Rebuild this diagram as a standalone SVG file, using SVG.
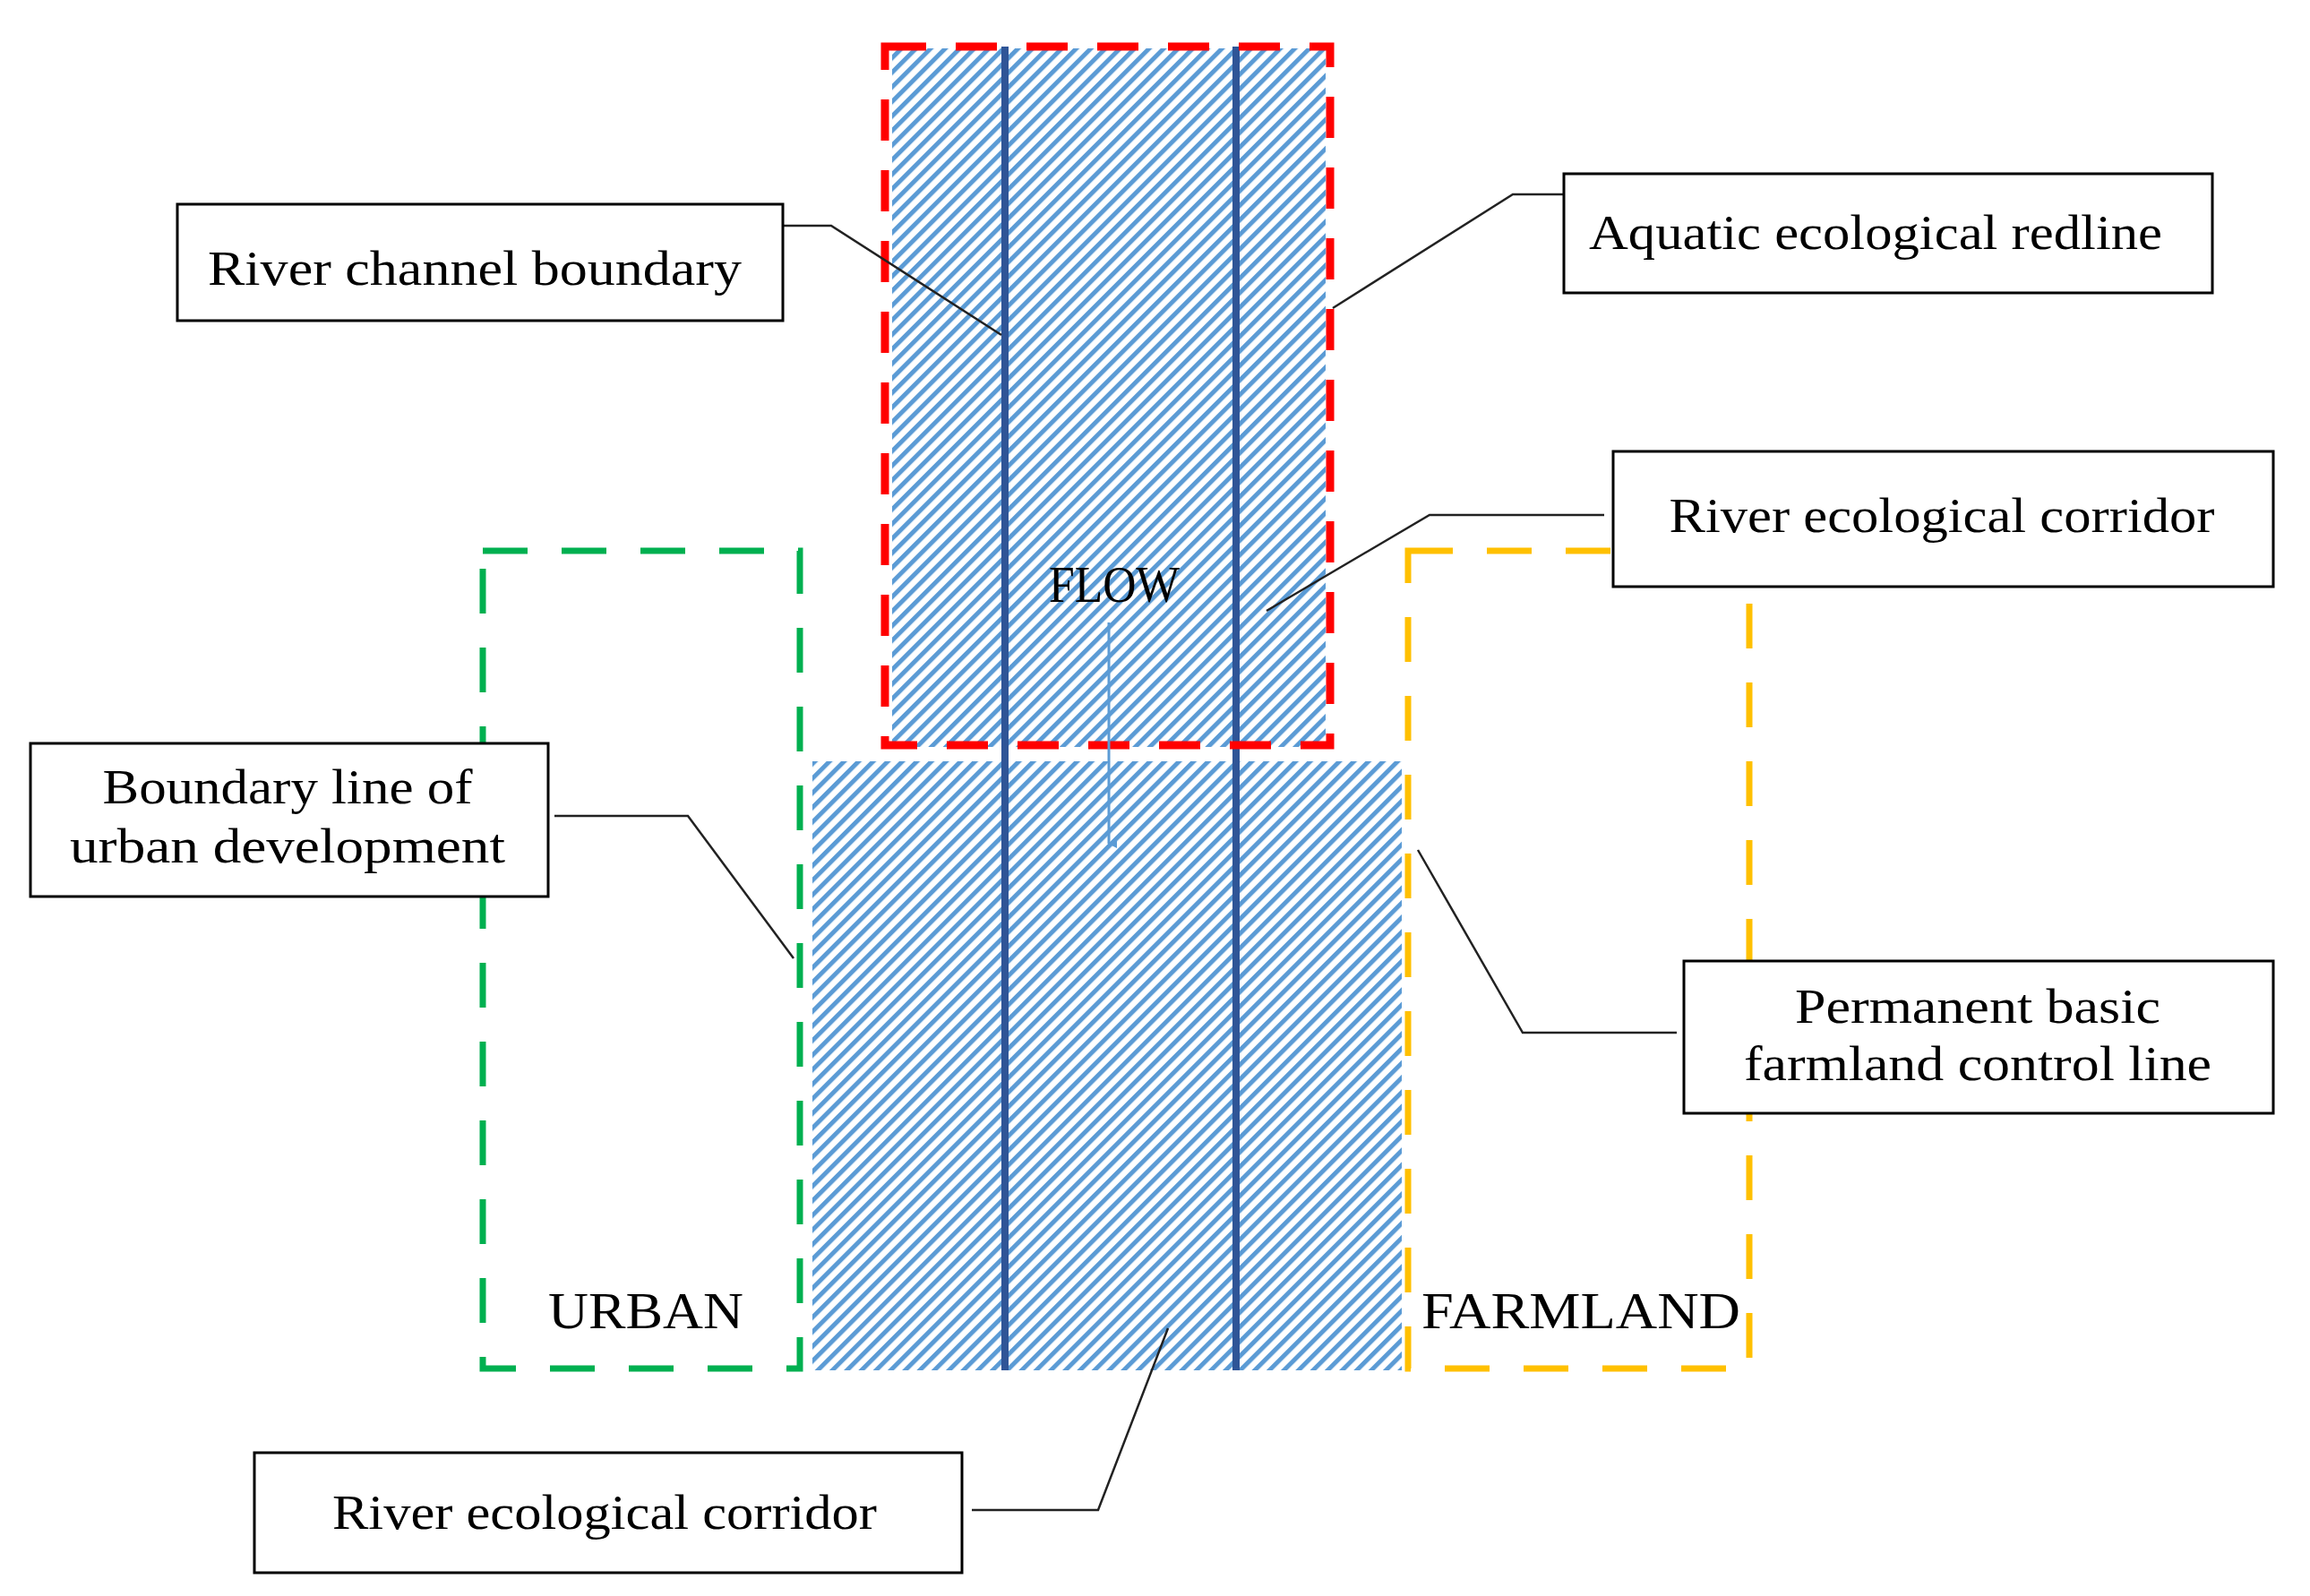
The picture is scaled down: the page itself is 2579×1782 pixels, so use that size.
<svg xmlns="http://www.w3.org/2000/svg" width="2579" height="1782" viewBox="0 0 2579 1782">
<style>
.box{fill:#fff;stroke:#000;stroke-width:3}
.lbl{font-family:"Liberation Serif",serif;font-size:54px;fill:#000;text-anchor:middle}
.zone{font-family:"Liberation Serif",serif;font-size:58px;fill:#000;text-anchor:middle}
.call{fill:none;stroke:#222;stroke-width:2.5}
.river{stroke:#2f5597;stroke-width:8}
</style>
<defs>
<pattern id="hatch" patternUnits="userSpaceOnUse" width="11.5" height="11.5" patternTransform="rotate(45)">
<rect x="0" y="0" width="5" height="11.5" fill="#5b9bd5"/>
</pattern>
<marker id="ah" markerWidth="10" markerHeight="10" refX="5" refY="9" orient="auto" markerUnits="userSpaceOnUse" viewBox="0 0 10 10">
<path d="M0,0 L10,0 L5,10 Z" fill="#5b9bd5"/>
</marker>
</defs>
<rect width="2579" height="1782" fill="#fff"/>
<g id="corridor">
<rect x="996" y="54" width="484" height="780" fill="url(#hatch)"/>
<rect x="907" y="850" width="658" height="680" fill="url(#hatch)"/>
<line class="river" x1="1122" y1="52" x2="1122" y2="1530"/>
<line class="river" x1="1380" y1="52" x2="1380" y2="1530"/>
</g>
<g id="redline"><rect x="988" y="52" width="497" height="780" fill="none" stroke="#ff0000" stroke-width="9" stroke-dasharray="46 33"/></g>
<g id="urban"><rect x="539" y="615" width="354" height="913" fill="none" stroke="#00b050" stroke-width="7" stroke-dasharray="50 38"/>
<text class="zone" x="721" y="1483" textLength="218" lengthAdjust="spacingAndGlyphs">URBAN</text></g>
<g id="farmland"><rect x="1572" y="615" width="381" height="913" fill="none" stroke="#ffc000" stroke-width="7" stroke-dasharray="50 38"/>
<text class="zone" x="1765" y="1483" textLength="356" lengthAdjust="spacingAndGlyphs">FARMLAND</text></g>
<g id="flow">
<text class="zone" x="1244" y="672" font-size="42" textLength="146" lengthAdjust="spacingAndGlyphs">FLOW</text>
<line x1="1238" y1="695" x2="1238" y2="942" stroke="#5b9bd5" stroke-width="3" marker-end="url(#ah)"/>
</g>
<g id="connectors">
<polyline class="call" points="874,252 928,252 1118,374"/>
<polyline class="call" points="1746,217 1689,217 1488,344"/>
<polyline class="call" points="1791,575 1596,575 1414,682"/>
<polyline class="call" points="619,911 768,911 886,1070"/>
<polyline class="call" points="1872,1153 1700,1153 1583,949"/>
<polyline class="call" points="1085,1686 1226,1686 1304,1483"/>
</g>
<g id="n-channel"><rect class="box" x="198" y="228" width="676" height="130"/>
<text class="lbl" x="530" y="318" textLength="596" lengthAdjust="spacingAndGlyphs">River channel boundary</text></g>
<g id="n-aquatic"><rect class="box" x="1746" y="194" width="724" height="133"/>
<text class="lbl" x="2094" y="278" textLength="640" lengthAdjust="spacingAndGlyphs">Aquatic ecological redline</text></g>
<g id="n-corridor-top"><rect class="box" x="1801" y="504" width="737" height="151"/>
<text class="lbl" x="2168" y="594" textLength="609" lengthAdjust="spacingAndGlyphs">River ecological corridor</text></g>
<g id="n-urban"><rect class="box" x="34" y="830" width="578" height="171"/>
<text class="lbl" x="321" y="897" textLength="413" lengthAdjust="spacingAndGlyphs">Boundary line of</text>
<text class="lbl" x="321" y="963" textLength="486" lengthAdjust="spacingAndGlyphs">urban development</text></g>
<g id="n-farm"><rect class="box" x="1880" y="1073" width="658" height="170"/>
<text class="lbl" x="2208" y="1142" textLength="408" lengthAdjust="spacingAndGlyphs">Permanent basic</text>
<text class="lbl" x="2208" y="1206" textLength="522" lengthAdjust="spacingAndGlyphs">farmland control line</text></g>
<g id="n-corridor-bottom"><rect class="box" x="284" y="1622" width="790" height="134"/>
<text class="lbl" x="675" y="1707" textLength="608" lengthAdjust="spacingAndGlyphs">River ecological corridor</text></g>
</svg>
